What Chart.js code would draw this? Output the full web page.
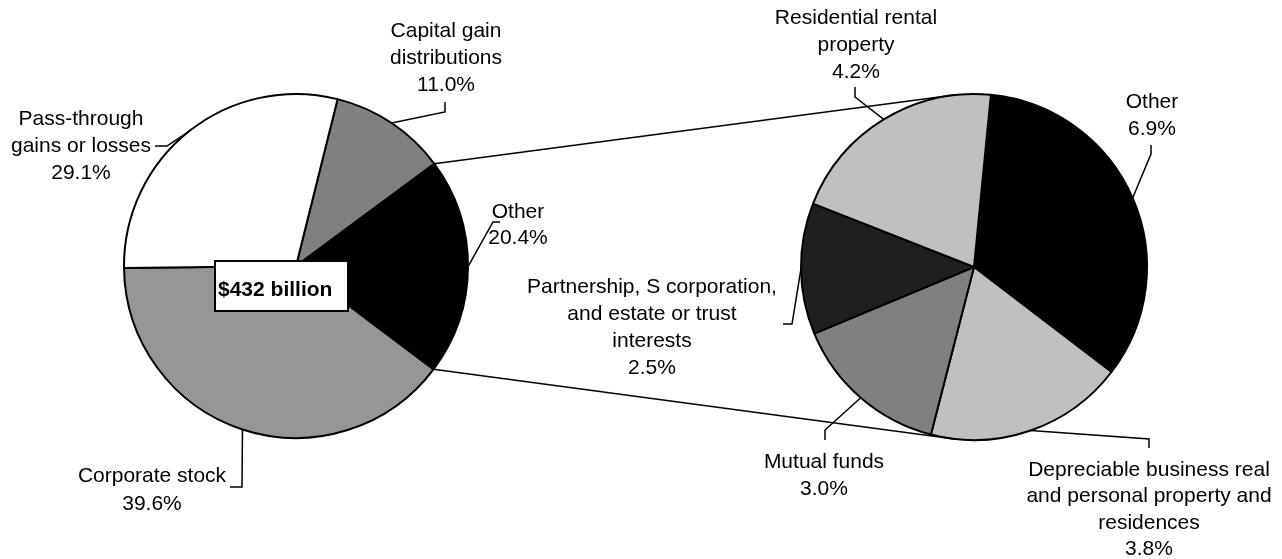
<!DOCTYPE html>
<html>
<head>
<meta charset="utf-8">
<title>Capital gains pie of pie</title>
<script src="https://cdn.jsdelivr.net/npm/chart.js@4.4.1/dist/chart.umd.min.js"></script>
<style>
  html, body { margin: 0; padding: 0; background: #fff; }
  #wrap { position: relative; width: 1282px; height: 559px; }
  #wrap canvas { position: absolute; left: 0; top: 0; }
</style>
</head>
<body>
<div id="wrap">
  <canvas id="otherChart" width="1282" height="559"></canvas>
  <canvas id="mainChart" width="1282" height="559"></canvas>
</div>
<script>
// --- Data ---
const totalBillions = 432;

// Left pie (share of total, %)
const mainLabels = ['Capital gain\ndistributions', 'Other', 'Corporate stock', 'Pass-through\ngains or losses'];
const mainValues = [11.0, 20.4, 39.6, 29.1];

// Right pie: breakdown of "Other" (share of total, %)
const otherLabels = [
  'Other',
  'Depreciable business real\nand personal property and\nresidences',
  'Mutual funds',
  'Partnership, S corporation,\nand estate or trust\ninterests',
  'Residential rental\nproperty'
];
const otherValues = [6.9, 3.8, 3.0, 2.5, 4.2];

// --- Styles / layout ---
const mainColors = ['#808080', '#000000', '#969696', '#ffffff'];
const otherColors = ['#000000', '#c0c0c0', '#808080', '#1f1f1f', '#c0c0c0'];

const FONT = '"Liberation Sans", Arial, sans-serif';
const LINE_H = 27;

// label text centre (first line) + leader stub; leader ends on the slice edge
const mainLabelPos = [
  { x: 446, y: 31, stub: [[445, 102], [445, 112]] },
  { x: 518, y: 212, lh: 26, stub: [[500, 222], [493, 222]] },
  { x: 152, y: 476, lh: 28, stub: [[230, 487], [242, 487]] },
  { x: 81, y: 119, stub: [[155, 146], [167, 146]] }
];
const otherLabelPos = [
  { x: 1152, y: 102, stub: [[1151, 145], [1151, 154]] },
  { x: 1149, y: 470, lh: 26.5, stub: [[1149, 448], [1149, 439]] },
  { x: 824, y: 462, stub: [[825, 440], [825, 430]] },
  { x: 652, y: 287, stub: [[783, 324], [792, 324]] },
  { x: 856, y: 18, stub: [[855, 87], [855, 97]] }
];
const totalBox = { x: 215, y: 261, w: 133, h: 50 };

function edgePoint(el, angle) {
  return [el.x + el.outerRadius * Math.cos(angle), el.y + el.outerRadius * Math.sin(angle)];
}

function drawLabels(ctx, meta, labels, values, positions) {
  ctx.font = '21px ' + FONT;
  ctx.textAlign = 'center';
  ctx.textBaseline = 'middle';
  ctx.fillStyle = '#000';
  ctx.strokeStyle = '#000';
  ctx.lineWidth = 1.5;

  labels.forEach((label, i) => {
    const pos = positions[i];
    const lines = label.split('\n').concat([values[i].toFixed(1) + '%']);
    const lh = pos.lh || LINE_H;
    lines.forEach((line, k) => ctx.fillText(line, pos.x, pos.y + k * lh));

    const el = meta.data[i];
    const mid = (el.startAngle + el.endAngle) / 2;
    const end = edgePoint(el, mid);
    ctx.beginPath();
    ctx.moveTo(pos.stub[0][0], pos.stub[0][1]);
    ctx.lineTo(pos.stub[1][0], pos.stub[1][1]);
    ctx.lineTo(end[0], end[1]);
    ctx.stroke();
  });
}

// connectors, labels and the total box are drawn on the top canvas
const calloutPlugin = {
  id: 'callouts',
  afterDraw(chart) {
    const ctx = chart.ctx;
    const mainMeta = chart.getDatasetMeta(0);
    const otherMeta = window.otherChart.getDatasetMeta(0);

    // lines from the "Other" slice to the breakdown pie
    const src = mainMeta.data[1];
    const dst = otherMeta.data[0];
    const tilt = 6.5 * Math.PI / 180;
    const a1 = edgePoint(src, src.startAngle);
    const a2 = edgePoint(src, src.endAngle);
    const b1 = edgePoint(dst, -Math.PI / 2 - tilt);
    const b2 = edgePoint(dst, Math.PI / 2 + tilt);
    ctx.save();
    ctx.strokeStyle = '#000';
    ctx.lineWidth = 1.5;
    ctx.beginPath();
    ctx.moveTo(a1[0], a1[1]);
    ctx.lineTo(b1[0], b1[1]);
    ctx.moveTo(a2[0], a2[1]);
    ctx.lineTo(b2[0], b2[1]);
    ctx.stroke();

    drawLabels(ctx, mainMeta, mainLabels, mainValues, mainLabelPos);
    drawLabels(ctx, otherMeta, otherLabels, otherValues, otherLabelPos);

    // total box
    ctx.fillStyle = '#fff';
    ctx.lineWidth = 2;
    ctx.fillRect(totalBox.x, totalBox.y, totalBox.w, totalBox.h);
    ctx.strokeRect(totalBox.x, totalBox.y, totalBox.w, totalBox.h);
    ctx.fillStyle = '#000';
    ctx.font = 'bold 21px ' + FONT;
    ctx.textAlign = 'left';
    ctx.textBaseline = 'middle';
    ctx.fillText('$' + totalBillions + ' billion', totalBox.x + 3, totalBox.y + 29);
    ctx.restore();
  }
};

function pieOptions(rotation, padding) {
  return {
    responsive: false,
    animation: false,
    rotation: rotation,
    layout: { padding: padding },
    plugins: {
      legend: { display: false },
      tooltip: { enabled: false }
    },
    events: []
  };
}

// right pie first (bottom canvas)
window.otherChart = new Chart(document.getElementById('otherChart').getContext('2d'), {
  type: 'pie',
  data: {
    labels: otherLabels,
    datasets: [{
      data: otherValues,
      backgroundColor: otherColors,
      borderColor: '#000',
      borderWidth: 2
    }]
  },
  options: pieOptions(5.6, { left: 800, right: 134, top: 93, bottom: 118 })
});

// left pie on top, with all callouts
window.mainChart = new Chart(document.getElementById('mainChart').getContext('2d'), {
  type: 'pie',
  data: {
    labels: mainLabels,
    datasets: [{
      data: mainValues,
      backgroundColor: mainColors,
      borderColor: '#000',
      borderWidth: 2
    }]
  },
  options: pieOptions(14, { left: 123, right: 813, top: 93, bottom: 120 }),
  plugins: [calloutPlugin]
});
</script>
</body>
</html>
